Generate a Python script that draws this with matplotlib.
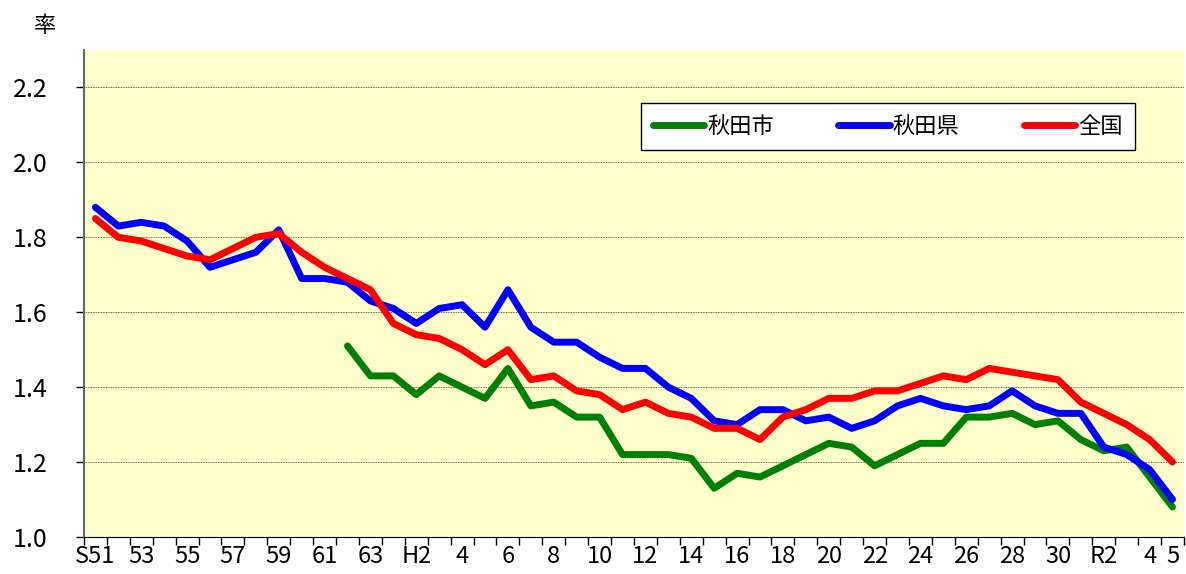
import matplotlib
matplotlib.use("Agg")
import matplotlib.pyplot as plt
from matplotlib.ticker import FixedLocator, NullFormatter

plt.rcParams['font.family'] = ['Noto Sans CJK JP', 'DejaVu Sans']

# S51 (1976) .. R5 (2023)
years = list(range(1976, 2024))
tick_labels = ['S51', '53', '55', '57', '59', '61', '63', 'H2', '4', '6', '8', '10',
               '12', '14', '16', '18', '20', '22', '24', '26', '28', '30', 'R2', '4', '5']
tick_idx = list(range(0, 46, 2)) + [46, 47]

akita_city = [None] * 11 + [
    1.51, 1.43, 1.43, 1.38, 1.43, 1.40, 1.37, 1.45, 1.35, 1.36,
    1.32, 1.32, 1.22, 1.22, 1.22, 1.21, 1.13, 1.17, 1.16, 1.19,
    1.22, 1.25, 1.24, 1.19, 1.22, 1.25, 1.25, 1.32, 1.32, 1.33,
    1.30, 1.31, 1.26, 1.23, 1.24, 1.16, 1.08]
akita_pref = [
    1.88, 1.83, 1.84, 1.83, 1.79, 1.72, 1.74, 1.76, 1.82, 1.69,
    1.69, 1.68, 1.63, 1.61, 1.57, 1.61, 1.62, 1.56, 1.66, 1.56,
    1.52, 1.52, 1.48, 1.45, 1.45, 1.40, 1.37, 1.31, 1.30, 1.34,
    1.34, 1.31, 1.32, 1.29, 1.31, 1.35, 1.37, 1.35, 1.34, 1.35,
    1.39, 1.35, 1.33, 1.33, 1.24, 1.22, 1.18, 1.10]
japan = [
    1.85, 1.80, 1.79, 1.77, 1.75, 1.74, 1.77, 1.80, 1.81, 1.76,
    1.72, 1.69, 1.66, 1.57, 1.54, 1.53, 1.50, 1.46, 1.50, 1.42,
    1.43, 1.39, 1.38, 1.34, 1.36, 1.33, 1.32, 1.29, 1.29, 1.26,
    1.32, 1.34, 1.37, 1.37, 1.39, 1.39, 1.41, 1.43, 1.42, 1.45,
    1.44, 1.43, 1.42, 1.36, 1.33, 1.30, 1.26, 1.20]

x = list(range(len(years)))
city_x = [i for i, v in zip(x, akita_city) if v is not None]
city_y = [v for v in akita_city if v is not None]

fig = plt.figure(figsize=(11.86, 5.74), dpi=100)
ax = fig.add_axes([0.0708, 0.0645, 0.9275, 0.8484])
ax.set_facecolor('#FFFFCC')

lw = 5
ax.plot(city_x, city_y, color='#008000', lw=lw, solid_capstyle='round', label='秋田市', zorder=3)
ax.plot(x, akita_pref, color='#0000FF', lw=lw, solid_capstyle='round', label='秋田県', zorder=4)
ax.plot(x, japan, color='#FF0000', lw=lw, solid_capstyle='round', label='全国', zorder=5)

ax.set_xlim(-0.5, len(years) - 0.5)
ax.set_ylim(1.0, 2.3)
ax.set_yticks([1.0, 1.2, 1.4, 1.6, 1.8, 2.0, 2.2])
ax.set_yticklabels(['1.0', '1.2', '1.4', '1.6', '1.8', '2.0', '2.2'], fontsize=18)
ax.grid(axis='y', color='#333333', linestyle=(0, (1, 1)), linewidth=0.6)
ax.set_axisbelow(True)

ax.xaxis.set_major_locator(FixedLocator([i - 0.5 for i in range(len(years) + 1)]))
ax.xaxis.set_major_formatter(NullFormatter())
ax.xaxis.set_minor_locator(FixedLocator(tick_idx))
ax.set_xticklabels(tick_labels, minor=True, fontsize=17)
ax.tick_params(axis='x', which='minor', length=0, pad=6)
ax.tick_params(axis='x', which='major', length=6, width=1, direction='out')
ax.tick_params(axis='y', length=6, width=1, direction='out', pad=20)

for s in ['top', 'right']:
    ax.spines[s].set_visible(False)
ax.spines['left'].set_color('#666666')
ax.spines['left'].set_linewidth(1.5)
ax.spines['bottom'].set_color('black')

fig.text(0.038, 0.955, '率', fontsize=16, ha='center', va='center')

leg = ax.legend(loc='upper left', bbox_to_anchor=(0.506, 0.892), ncol=3, fontsize=16,
                frameon=True, fancybox=False, shadow=False, handlelength=2.3,
                handletextpad=0.15, columnspacing=2.9, borderpad=0.55, borderaxespad=0)
leg.get_frame().set_edgecolor('black')
leg.get_frame().set_linewidth(1.0)
leg.get_frame().set_facecolor('white')
leg.get_frame().set_alpha(1)

fig.savefig('out.png', dpi=100)
